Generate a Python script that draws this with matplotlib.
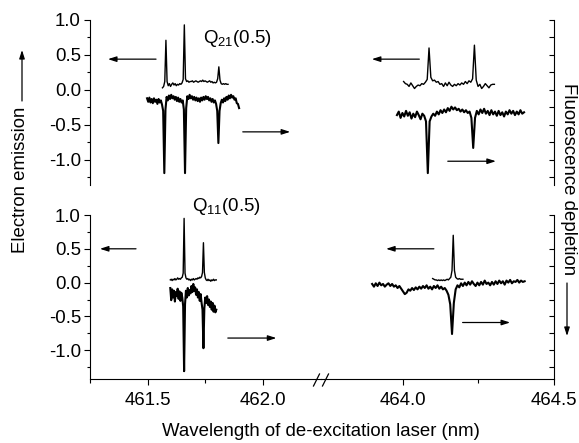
import numpy as np
import matplotlib.pyplot as plt
from matplotlib.ticker import MultipleLocator, FixedLocator, FormatStrFormatter
from matplotlib.lines import Line2D
from matplotlib.patches import FancyArrowPatch

plt.rcParams["font.family"] = ["Liberation Sans", "DejaVu Sans"]
plt.rcParams["font.size"] = 13.4
plt.rcParams["mathtext.fontset"] = "custom"
plt.rcParams["mathtext.rm"] = "Liberation Sans"
plt.rcParams["mathtext.it"] = "Liberation Sans:italic"

# ---- data: each trace is (first wavelength, step in nm) + signal values ----
# top panel, Q21(0.5) region
tl_em_grid = (461.565, 0.005)
tl_em = [0.03, 0.05, 0.12, 0.71, 0.12, 0.06, 0.09, 0.05, 0.08, 0.10,
         0.07, 0.09, 0.06, 0.08, 0.07, 0.09, 0.08, 0.10, 0.15, 0.93,
         0.16, 0.12, 0.13, 0.11, 0.12, 0.12, 0.13, 0.11, 0.12, 0.13,
         0.12, 0.11, 0.12, 0.13, 0.12, 0.14, 0.12, 0.13, 0.12, 0.11,
         0.12, 0.13, 0.11, 0.12, 0.10, 0.11, 0.10, 0.11, 0.16, 0.33,
         0.14, 0.09, 0.08, 0.09, 0.08, 0.09, 0.08, 0.08]
tl_fl_grid = (461.498, 0.005)
tl_fl = [-0.12, -0.17, -0.11, -0.18, -0.13, -0.19, -0.12, -0.17, -0.14, -0.20,
         -0.13, -0.18, -0.15, -0.21, -0.30, -1.19, -0.28, -0.10, -0.15, -0.08,
         -0.13, -0.07, -0.12, -0.09, -0.14, -0.10, -0.16, -0.11, -0.17, -0.13,
         -0.18, -0.15, -0.28, -1.19, -0.26, -0.09, -0.13, -0.07, -0.12, -0.09,
         -0.14, -0.10, -0.15, -0.11, -0.16, -0.12, -0.17, -0.11, -0.15, -0.10,
         -0.14, -0.09, -0.13, -0.10, -0.15, -0.12, -0.17, -0.13, -0.18, -0.15,
         -0.20, -0.30, -0.76, -0.30, -0.19, -0.14, -0.18, -0.12, -0.16, -0.10,
         -0.14, -0.08, -0.12, -0.07, -0.11, -0.09, -0.14, -0.12, -0.19, -0.20,
         -0.26]
tr_em_grid = (464.003, 0.006)
tr_em = [0.12, 0.09, 0.08, 0.05, 0.10, 0.06, 0.02, 0.05, 0.07, 0.06,
         0.09, 0.08, 0.11, 0.15, 0.60, 0.18, 0.13, 0.14, 0.11, 0.12,
         0.08, 0.09, 0.05, 0.10, 0.06, 0.11, 0.07, 0.05, 0.08, 0.06,
         0.09, 0.07, 0.10, 0.08, 0.12, 0.09, 0.13, 0.11, 0.16, 0.64,
         0.14, 0.05, 0.08, 0.02, 0.05, 0.09, 0.06, 0.03, 0.07, 0.08,
         0.08]
tr_fl_grid = (463.981, 0.006)
tr_fl = [-0.36, -0.31, -0.40, -0.33, -0.38, -0.30, -0.37, -0.32, -0.41, -0.34,
         -0.39, -0.31, -0.36, -0.42, -0.34, -0.37, -0.45, -1.19, -0.45, -0.38,
         -0.34, -0.37, -0.31, -0.35, -0.29, -0.33, -0.28, -0.32, -0.26, -0.30,
         -0.24, -0.28, -0.25, -0.29, -0.27, -0.31, -0.28, -0.32, -0.29, -0.33,
         -0.31, -0.40, -0.83, -0.40, -0.30, -0.35, -0.28, -0.33, -0.27, -0.34,
         -0.30, -0.36, -0.29, -0.35, -0.31, -0.37, -0.30, -0.36, -0.32, -0.38,
         -0.31, -0.35, -0.29, -0.34, -0.30, -0.36, -0.31, -0.35, -0.29, -0.34,
         -0.32]

# bottom panel, Q11(0.5) region
bl_em_grid = (461.599, 0.004)
bl_em = [0.04, 0.05, 0.03, 0.05, 0.04, 0.06, 0.04, 0.05, 0.07, 0.05,
         0.06, 0.05, 0.07, 0.08, 0.14, 0.95, 0.14, 0.07, 0.05, 0.06,
         0.04, 0.05, 0.03, 0.05, 0.04, 0.06, 0.04, 0.05, 0.06, 0.05,
         0.07, 0.06, 0.08, 0.07, 0.09, 0.15, 0.59, 0.15, 0.07, 0.04,
         0.03, 0.05, 0.03, 0.04, 0.02, 0.04, 0.03, 0.05, 0.03, 0.04,
         0.04]
bl_fl_grid = (461.599, 0.004)
bl_fl = [-0.08, -0.26, -0.10, -0.22, -0.12, -0.28, -0.14, -0.20, -0.09, -0.24,
         -0.13, -0.27, -0.15, -0.22, -0.35, -1.31, -0.32, -0.12, -0.22, -0.08,
         -0.19, -0.11, -0.16, -0.05, -0.14, -0.02, -0.12, -0.07, -0.18, -0.10,
         -0.22, -0.14, -0.27, -0.17, -0.30, -0.40, -0.97, -0.38, -0.22, -0.30,
         -0.20, -0.33, -0.25, -0.36, -0.28, -0.40, -0.30, -0.43, -0.34, -0.44,
         -0.40]
br_em_grid = (464.099, 0.004)
br_em = [0.06, 0.05, 0.04, 0.04, 0.03, 0.04, 0.03, 0.04, 0.03, 0.04,
         0.03, 0.04, 0.05, 0.04, 0.06, 0.08, 0.18, 0.70, 0.18, 0.08,
         0.06, 0.05, 0.06, 0.05, 0.05, 0.05]
br_fl_grid = (463.899, 0.006)
br_fl = [-0.02, -0.06, -0.01, -0.05, 0.00, -0.04, -0.02, -0.06, -0.03, -0.01,
         -0.05, -0.02, -0.06, -0.04, -0.08, -0.05, -0.09, -0.13, -0.17, -0.15,
         -0.10, -0.12, -0.08, -0.11, -0.07, -0.10, -0.06, -0.09, -0.05, -0.08,
         -0.04, -0.09, -0.06, -0.10, -0.05, -0.08, -0.04, -0.09, -0.06, -0.10,
         -0.08, -0.12, -0.18, -0.32, -0.76, -0.30, -0.10, -0.04, -0.07, -0.01,
         -0.05, 0.00, -0.04, 0.01, -0.03, 0.02, -0.02, -0.05, 0.00, -0.04,
         0.01, -0.03, 0.03, -0.02, 0.00, -0.04, 0.01, -0.03, 0.02, -0.02,
         0.03, -0.01, 0.02, -0.03, 0.03, 0.00, 0.04, -0.01, 0.02, 0.01,
         0.04, 0.00, 0.03, 0.01, 0.02]

# direction arrows: (tail x, head x, y)
tl_arrows = [(461.537, 461.328, 0.44), (461.914, 462.12, -0.60)]
tr_arrows = [(464.055, 463.898, 0.44), (464.149, 464.308, -1.02)]
bl_arrows = [(461.45, 461.293, 0.50), (461.849, 462.06, -0.82)]
br_arrows = [(464.103, 463.945, 0.50), (464.198, 464.355, -0.59)]

left_xlim = (461.25, 462.254)
right_xlim = (463.73, 464.5)
top_ylim = (-1.36, 1.0)
bottom_ylim = (-1.43, 1.0)


def grid(g, vals):
    return g[0] + g[1] * np.arange(len(vals))


W, H = 579, 443
fig = plt.figure(figsize=(W / 100, H / 100), dpi=100)


def box(x0, x1, y0, y1):
    # pixel edges (from top-left) -> figure rect
    return [x0 / W, 1 - y1 / H, (x1 - x0) / W, (y1 - y0) / H]


ax_tl = fig.add_axes(box(90, 321, 20, 185))
ax_tr = fig.add_axes(box(321, 554, 20, 185))
ax_bl = fig.add_axes(box(90, 321, 215, 379.3))
ax_br = fig.add_axes(box(321, 554, 215, 379.3))


def style(ax, side, xlim, ylim, xmajor=None, xminor=None):
    ax.set_xlim(*xlim)
    ax.set_ylim(*ylim)
    ax.patch.set_alpha(0)
    for s in ax.spines.values():
        s.set_visible(False)
        s.set_linewidth(0.8)
    ax.spines[side].set_visible(True)
    ax.yaxis.set_major_locator(MultipleLocator(0.5))
    ax.yaxis.set_minor_locator(MultipleLocator(0.25))
    if side == "left":
        ax.yaxis.set_major_formatter(FormatStrFormatter("%.1f"))
        ax.tick_params(axis="y", which="major", direction="out", length=4, width=0.8, pad=2.5)
        ax.tick_params(axis="y", which="minor", direction="out", length=2.3, width=0.8)
    else:
        ax.yaxis.tick_right()
        ax.tick_params(axis="y", which="both", direction="in", length=3.5, width=0.8,
                       labelright=False, labelleft=False)
    if xmajor is None:
        ax.tick_params(axis="x", which="both", bottom=False, labelbottom=False)
    else:
        ax.spines["bottom"].set_visible(True)
        ax.xaxis.set_major_locator(FixedLocator(xmajor))
        ax.xaxis.set_minor_locator(FixedLocator(xminor))
        ax.xaxis.set_major_formatter(FormatStrFormatter("%.1f"))
        ax.tick_params(axis="x", which="major", direction="out", length=4, width=0.8, pad=5)
        ax.tick_params(axis="x", which="minor", direction="out", length=3, width=0.8)


style(ax_tl, "left", left_xlim, top_ylim)
style(ax_tr, "right", right_xlim, top_ylim)
style(ax_bl, "left", left_xlim, bottom_ylim, [461.5, 462.0], [461.25, 461.75])
style(ax_br, "right", right_xlim, bottom_ylim, [464.0, 464.5], [464.25])

panels = [
    (ax_tl, tl_em_grid, tl_em, tl_fl_grid, tl_fl, tl_arrows),
    (ax_tr, tr_em_grid, tr_em, tr_fl_grid, tr_fl, tr_arrows),
    (ax_bl, bl_em_grid, bl_em, bl_fl_grid, bl_fl, bl_arrows),
    (ax_br, br_em_grid, br_em, br_fl_grid, br_fl, br_arrows),
]
for ax, eg, em, fg, fl, arrows in panels:
    ax.plot(grid(eg, em), em, color="black", lw=1.0)
    ax.plot(grid(fg, fl), fl, color="black", lw=1.5)
    for x0, x1, y in arrows:
        ax.annotate("", xy=(x1, y), xytext=(x0, y),
                    arrowprops=dict(arrowstyle="-|>,head_length=0.5,head_width=0.16",
                                    color="black", lw=0.9, shrinkA=0, shrinkB=0,
                                    mutation_scale=10))

ax_tl.text(461.741, 0.73, r"Q$_{\mathrm{21}}$(0.5)", ha="left", va="center")
ax_bl.text(461.693, 1.13, r"Q$_{\mathrm{11}}$(0.5)", ha="left", va="center", clip_on=False)

# axis break marks on the wavelength axis
for x0 in (313.5, 322.5):
    fig.add_artist(Line2D([x0 / W, (x0 + 6) / W], [1 - 386 / H, 1 - 374 / H],
                          color="black", lw=0.9, transform=fig.transFigure))

fig.text(321 / W, 1 - 432 / H, "Wavelength of de-excitation laser (nm)",
         ha="center", va="center")
fig.text(21 / W, 1 - 180 / H, "Electron emission", rotation=90,
         ha="center", va="center")
fig.text(568 / W, 1 - 179 / H, "Fluorescence depletion", rotation=-90,
         ha="center", va="center")
fig.add_artist(FancyArrowPatch((22 / W, 1 - 101 / H), (22 / W, 1 - 50 / H),
                               transform=fig.transFigure,
                               arrowstyle="-|>,head_length=0.5,head_width=0.16",
                               mutation_scale=10, color="black", lw=0.9,
                               shrinkA=0, shrinkB=0))
fig.add_artist(FancyArrowPatch((567 / W, 1 - 283 / H), (567 / W, 1 - 336 / H),
                               transform=fig.transFigure,
                               arrowstyle="-|>,head_length=0.5,head_width=0.16",
                               mutation_scale=10, color="black", lw=0.9,
                               shrinkA=0, shrinkB=0))

fig.savefig("out.png", dpi=100)
